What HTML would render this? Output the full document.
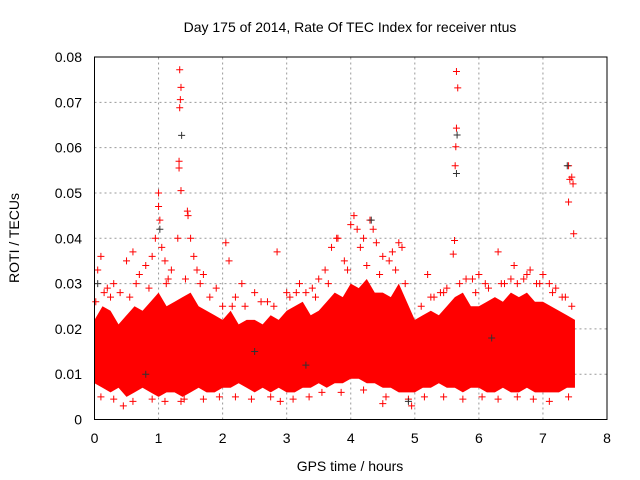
<!DOCTYPE html>
<html><head><meta charset="utf-8"><style>
body{margin:0;background:#fff}
svg{display:block;font-family:"Liberation Sans",Arial,sans-serif}
</style></head><body>
<svg id="chart" width="640" height="480">
<text x="350" y="32" font-size="14" text-anchor="middle">Day 175 of 2014, Rate Of TEC Index for receiver ntus</text>
<text x="350" y="471" font-size="14" text-anchor="middle">GPS time / hours</text>
<text x="19" y="238" font-size="14" text-anchor="middle" transform="rotate(-90 19 238)">ROTI / TECUs</text>
<g id="grid"></g><g id="band"></g><g id="pts"></g><g id="axes"></g>
</svg>
<script>
const bandT=[0,0.125,0.25,0.375,0.5,0.625,0.75,0.875,1,1.125,1.25,1.375,1.5,1.625,1.75,1.875,2,2.125,2.25,2.375,2.5,2.625,2.75,2.875,3,3.125,3.25,3.375,3.5,3.625,3.75,3.875,4,4.125,4.25,4.375,4.5,4.625,4.75,4.875,5,5.125,5.25,5.375,5.5,5.625,5.75,5.875,6,6.125,6.25,6.375,6.5,6.625,6.75,6.875,7,7.125,7.25,7.375,7.5];
const bandLow=[.008,.007,.006,.007,.005,.006,.007,.006,.005,.006,.006,.005,.006,.007,.006,.006,.007,.007,.008,.007,.006,.007,.006,.007,.006,.006,.007,.007,.008,.007,.008,.008,.009,.009,.008,.008,.007,.007,.006,.006,.006,.007,.007,.008,.007,.007,.006,.007,.007,.006,.006,.007,.006,.006,.007,.006,.006,.006,.006,.007,.007];
const bandHigh=[.022,.025,.024,.021,.023,.025,.024,.026,.028,.025,.026,.027,.028,.025,.024,.023,.022,.024,.021,.022,.022,.021,.023,.022,.024,.025,.026,.023,.024,.026,.028,.027,.030,.029,.031,.028,.028,.027,.030,.026,.022,.023,.024,.023,.025,.027,.028,.025,.025,.026,.027,.026,.028,.027,.028,.026,.026,.025,.024,.023,.022];
const redT=[0.05,0.1,0.15,0.3,0.5,0.6,0.7,0.8,0.9,0.95,1.0,1.0,1.02,1.05,1.1,1.2,1.3,1.32,1.32,1.33,1.34,1.35,1.33,1.35,1.45,1.46,1.5,1.55,1.7,2.05,2.1,2.3,2.85,3.2,3.6,3.7,3.78,3.8,3.9,4.0,4.05,4.1,4.2,4.3,4.35,4.4,4.5,4.6,4.75,4.8,5.2,5.4,5.6,5.62,5.63,5.64,5.65,5.65,5.67,5.7,6.0,6.3,6.55,6.8,7.0,7.1,7.4,7.42,7.45,7.47,7.48,7.4,0.45,4.95,4.5,1.35,2.9,0.2,0.4,0.65,1.15,1.6,1.9,2.2,2.5,2.7,3.0,3.4,3.5,4.15,4.65,5.3,5.5,5.9,6.1,6.4,6.7,6.9,7.2,7.3,
0.02,0.25,0.55,0.85,1.12,1.42,1.65,1.8,2.0,2.15,2.35,2.6,2.8,3.05,3.15,3.3,3.45,3.65,3.95,4.25,4.45,4.7,4.85,5.1,5.25,5.45,5.8,5.95,6.15,6.35,6.5,6.6,6.75,6.95,7.15,7.35,7.45,
0.1,0.3,0.6,0.9,1.1,1.4,1.7,1.95,2.2,2.45,2.75,3.1,3.35,3.55,3.85,4.2,4.55,4.9,5.15,5.45,5.75,6.05,6.3,6.6,6.85,7.1,7.4];
const redV=[0.033,0.036,0.028,0.03,0.035,0.037,0.032,0.034,0.036,0.04,0.05,0.047,0.044,0.038,0.035,0.033,0.04,0.057,0.0555,0.0688,0.0706,0.0733,0.0772,0.0505,0.046,0.045,0.04,0.036,0.032,0.039,0.035,0.03,0.037,0.03,0.033,0.038,0.04,0.04,0.035,0.043,0.045,0.042,0.04,0.044,0.042,0.039,0.036,0.035,0.039,0.038,0.032,0.028,0.0365,0.0395,0.056,0.0602,0.0643,0.0768,0.0732,0.03,0.032,0.037,0.034,0.033,0.032,0.03,0.048,0.053,0.0535,0.052,0.041,0.056,0.003,0.003,0.0035,0.004,0.004,0.029,0.028,0.03,0.031,0.033,0.029,0.027,0.028,0.026,0.028,0.029,0.031,0.038,0.037,0.027,0.029,0.031,0.03,0.03,0.031,0.03,0.029,0.027,
0.026,0.027,0.027,0.029,0.03,0.031,0.03,0.027,0.025,0.025,0.025,0.026,0.025,0.027,0.028,0.028,0.027,0.03,0.033,0.034,0.032,0.033,0.03,0.025,0.027,0.028,0.031,0.028,0.029,0.03,0.031,0.03,0.032,0.03,0.028,0.027,0.025,
0.005,0.0045,0.004,0.0045,0.004,0.0045,0.0045,0.005,0.005,0.0045,0.005,0.0045,0.005,0.006,0.006,0.0065,0.005,0.0045,0.005,0.005,0.0045,0.005,0.0045,0.005,0.0045,0.004,0.005];
const blackT=[1.36,5.65,5.66,4.32,1.02,0.05,7.38,2.5,3.3,6.2,0.8,4.9];
const blackV=[0.0627,0.0543,0.0628,0.044,0.042,0.03,0.056,0.015,0.012,0.018,0.01,0.004];
const xTicks=[0,1,2,3,4,5,6,7,8];
const yTicks=[0,0.01,0.02,0.03,0.04,0.05,0.06,0.07,0.08];
const yLabels=["0","0.01","0.02","0.03","0.04","0.05","0.06","0.07","0.08"];
const X0=94.5,X1=607,Y0=419.5,Y1=57;
const sx=t=>X0+(X1-X0)*t/8, sy=v=>Y0-(Y0-Y1)*v/0.08;
const NS="http://www.w3.org/2000/svg";
function mk(tag,parent,attrs){const e=document.createElementNS(NS,tag);for(const k in attrs)e.setAttribute(k,attrs[k]);document.getElementById(parent).appendChild(e);return e;}
xTicks.forEach((t,i)=>{
 if(i>0&&i<8){const g=mk('line','grid',{x1:sx(t),x2:sx(t),y1:Y0,y2:Y1,stroke:'#999','stroke-dasharray':'2,3'});
 
 }
 const l=mk('text','axes',{x:sx(t),y:443,'font-size':14,'text-anchor':'middle'});l.textContent=t;
 
 
});
yTicks.forEach((v,i)=>{
 if(i>0&&i<8){const g=mk('line','grid',{x1:X0,x2:X1,y1:sy(v),y2:sy(v),stroke:'#999','stroke-dasharray':'2,3'});
 
 }
 const l=mk('text','axes',{x:82,y:sy(v)+5,'font-size':14,'text-anchor':'end'});l.textContent=yLabels[i];
 
 
});
let d='M'+bandT.map((t,i)=>sx(t)+','+sy(bandHigh[i])).join('L');
for(let i=bandT.length-1;i>=0;i--)d+='L'+sx(bandT[i])+','+sy(bandLow[i]);
const band=mk('path','band',{d:d+'Z',fill:'#f00'});


function cross(t,v,c,name){const x=sx(t),y=sy(v);
 const p=mk('path','pts',{d:`M${x-3.5},${y}H${x+3.5}M${x},${y-3.5}V${y+3.5}`,stroke:c,'stroke-width':1});
 
 }
redT.forEach((t,i)=>cross(t,redV[i],'#f00','roti-point-red'));
blackT.forEach((t,i)=>cross(t,blackV[i],'#333','roti-point-black'));
const fr=mk('rect','axes',{x:X0,y:Y1,width:X1-X0,height:Y0-Y1,fill:'none',stroke:'#000','stroke-width':1});


</script>
</body></html>
